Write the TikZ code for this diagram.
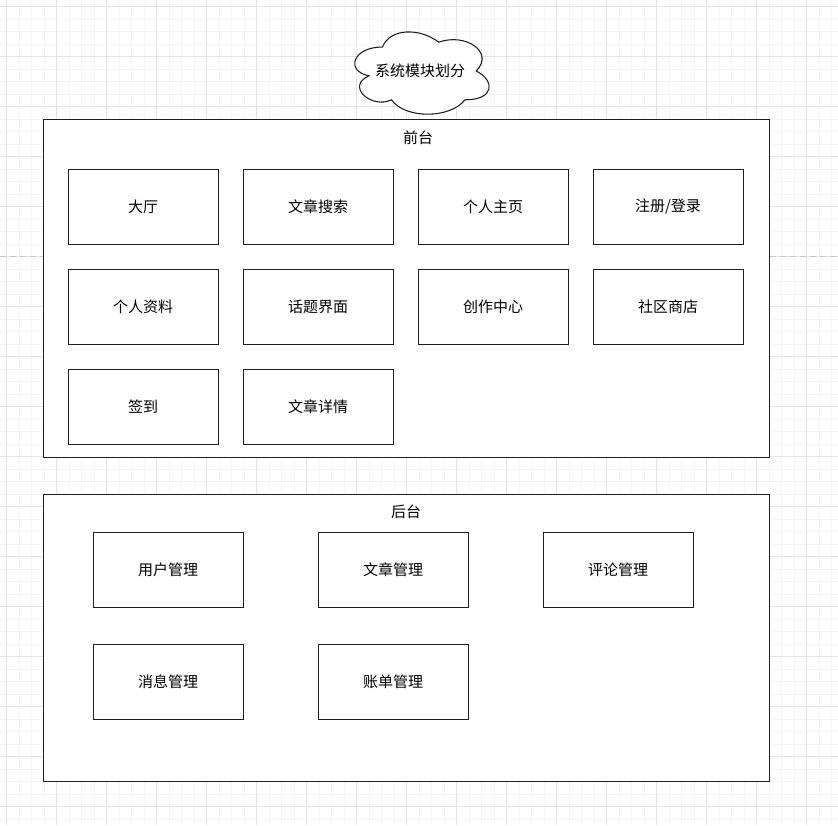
\documentclass[tikz,border=0pt]{standalone}
\usepackage{fontspec}
\setmainfont{Noto Sans CJK SC}
\usetikzlibrary{calc}

\definecolor{gridminor}{HTML}{F5F5F5}
\definecolor{gridmajor}{HTML}{E4E4E4}
\definecolor{edge}{HTML}{1E1E1E}

% draw.io style cloud: \drawcloud(x,y)(w,h) with (x,y) top left corner
\def\drawcloud(#1,#2)(#3,#4){%
	\draw[line width=0.8pt, edge, fill=white]
		({#1+0.25*#3},{#2+0.25*#4})
		.. controls ({#1+0.05*#3},{#2+0.25*#4}) and ({#1},{#2+0.5*#4}) .. ({#1+0.16*#3},{#2+0.55*#4})
		.. controls ({#1},{#2+0.66*#4}) and ({#1+0.18*#3},{#2+0.9*#4}) .. ({#1+0.31*#3},{#2+0.8*#4})
		.. controls ({#1+0.4*#3},{#2+#4}) and ({#1+0.7*#3},{#2+#4}) .. ({#1+0.8*#3},{#2+0.8*#4})
		.. controls ({#1+#3},{#2+0.8*#4}) and ({#1+#3},{#2+0.6*#4}) .. ({#1+0.875*#3},{#2+0.5*#4})
		.. controls ({#1+#3},{#2+0.3*#4}) and ({#1+0.8*#3},{#2+0.1*#4}) .. ({#1+0.625*#3},{#2+0.2*#4})
		.. controls ({#1+0.5*#3},{#2+0.05*#4}) and ({#1+0.3*#3},{#2+0.05*#4}) .. cycle;}

\tikzset{
	module/.style={draw=edge, line width=0.75pt, fill=white, minimum width=112.5pt, minimum height=56.25pt,
		inner sep=0pt, font=\fontsize{11.25}{13}\selectfont},
	group/.style={draw=edge, line width=0.75pt, fill=white, inner sep=0pt},
	grouptitle/.style={font=\fontsize{11.25}{13}\selectfont, inner sep=0pt}
}

\begin{document}
\begin{tikzpicture}[x=0.75pt, y=-0.75pt]
			%%%%% GRID %%%%%
			\useasboundingbox (0,0) rectangle (838,825);
			\fill[white] (0,0) rectangle (838,825);
			\foreach \i in {0,...,67}{
				\draw[gridminor, line width=0.75pt] ({-5.8+12.5*\i},0) -- ({-5.8+12.5*\i},825);
				\draw[gridminor, line width=0.75pt] (0,{-5.8+12.5*\i}) -- (838,{-5.8+12.5*\i});
			}
			\foreach \i in {0,...,16}{
				\draw[gridmajor, line width=0.75pt] ({6.7+50*\i},0) -- ({6.7+50*\i},825);
				\draw[gridmajor, line width=0.75pt] (0,{6.7+50*\i}) -- (838,{6.7+50*\i});
			}
			\draw[black!22, line width=0.9pt, dash pattern=on 4.5pt off 3pt] (0,256.7) -- (838,256.7);
			
			%%%%% TITLE %%%%%
			\drawcloud(345,23)(150,96)
			\node[font=\fontsize{11.25}{13}\selectfont] (title) at (420,71) {系统模块划分};
			
			%%%%% FRONT %%%%%
			\node[group, minimum width=544.5pt, minimum height=253.5pt] (front) at (406,288) {};
			\node[grouptitle] (fronttitle) at (418,138) {前台};
			
			\node[module] (hall) at (143,206.5) {大厅};
			\node[module] (search) at (318,206.5) {文章搜索};
			\node[module] (home) at (493,206.5) {个人主页};
			\node[module] (login) at (668,206.5) {注册/登录};
			
			\node[module] (profile) at (143,306.5) {个人资料};
			\node[module] (topic) at (318,306.5) {话题界面};
			\node[module] (create) at (493,306.5) {创作中心};
			\node[module] (shop) at (668,306.5) {社区商店};
			
			\node[module] (checkin) at (143,406.5) {签到};
			\node[module] (detail) at (318,406.5) {文章详情};
			
			%%%%% BACK %%%%%
			\node[group, minimum width=544.5pt, minimum height=215.25pt] (back) at (406,637.5) {};
			\node[grouptitle] (backtitle) at (406,512) {后台};
			
			\node[module] (usermgr) at (168,569.5) {用户管理};
			\node[module] (articlemgr) at (393,569.5) {文章管理};
			\node[module] (commentmgr) at (618,569.5) {评论管理};
			
			\node[module] (msgmgr) at (168,681.5) {消息管理};
			\node[module] (billmgr) at (393,681.5) {账单管理};
\end{tikzpicture}
\end{document}
